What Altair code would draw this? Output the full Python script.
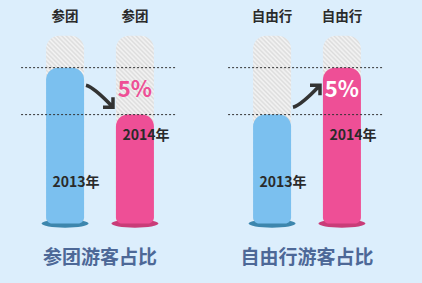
import altair as alt
import pandas as pd

# ---------------- data ----------------
panels = ["参团游客占比", "自由行游客占比"]
panel_tags = ["参团", "自由行"]
years = ["2013年", "2014年"]
share_2013 = [83, 58]      # bar heights as drawn (relative units, full bar = 100)
share_2014 = [58, 83]
change_labels = ["5%", "5%"]
full_height = 100

rows = []
for p, tag, a, b, ch in zip(panels, panel_tags, share_2013, share_2014, change_labels):
    d = "up" if b > a else "down"
    for i, (yr, v) in enumerate(zip(years, [a, b])):
        rows.append(dict(panel=p, tag=tag, year=yr, idx=i, value=v, zero=0,
                         full=full_height, change=ch, dir=d, mid=(a + b) / 2))
df = pd.DataFrame(rows)

# ---------------- styles ----------------
CJK = "Noto Sans CJK SC"
BG = "#dceefc"
BLUE = "#7bc0ef"
PINK = "#ee4f96"
BLUE_DARK = "#3d86ad"
PINK_DARK = "#c93c78"
TITLE_C = "#4d6897"
TXT = "#2a2a2a"

W, H = 200, 233
BAR_W = 38
xs = alt.Scale(domain=[-0.86, 1.86], nice=False, zero=False)
ys = alt.Scale(domain=[-5, 119], nice=False, zero=False)
X = alt.X("idx:Q", scale=xs, axis=None)

# striped gradient for the grey "capacity" bars (diagonal stripes)
bw, bh = BAR_W, full_height * H / 124.0
c = bw * bh * (bw + bh) / (bw ** 2 + bh ** 2)
gx, gy = c / bh, c / bw
N = 50
stops = [alt.GradientStop(offset=round(k / (2 * N), 4),
                          color=("#dcdcdc" if k % 2 == 0 else "#f4f4f4"))
         for k in range(2 * N + 1)]
stripes = alt.LinearGradient(gradient="linear", stops=stops, x1=0, y1=1,
                             x2=round(gx, 4), y2=round(1 - gy, 4))

ELLIPSE = ("M-1,0C-1,-0.097,-0.552,-0.175,0,-0.175C0.552,-0.175,1,-0.097,1,0"
           "C1,0.097,0.552,0.175,0,0.175C-0.552,0.175,-1,0.097,-1,0Z")


def arrow_path(flip):
    s = -1 if flip else 1
    pts = {"a": (-14, -11), "c": (-6, -9), "t": (13, 11), "m1": (3, 11), "m2": (13, 1)}
    f = lambda p: f"{p[0] / 16:.3f},{s * p[1] / 16:.3f}"
    return (f"M{f(pts['a'])}Q{f(pts['c'])},{f(pts['t'])}"
            f"M{f(pts['m1'])}L{f(pts['t'])}L{f(pts['m2'])}")


DOWN, UP = arrow_path(False), arrow_path(True)

bar_color = alt.condition("datum.idx == 0", alt.value(BLUE), alt.value(PINK))
base_color = alt.condition("datum.idx == 0", alt.value(BLUE_DARK), alt.value(PINK_DARK))


def panel(name):
    src = alt.Chart(df).transform_filter(alt.datum.panel == name)

    grey = src.mark_bar(width=BAR_W, cornerRadiusTopLeft=13, cornerRadiusTopRight=13,
                        color=stripes).encode(
        x=X, y=alt.Y("full:Q", scale=ys, axis=None), y2="zero:Q")

    base = src.mark_point(shape=ELLIPSE, size=47 * 47, filled=True, opacity=1,
                          strokeWidth=0).encode(
        x=X, y=alt.Y("zero:Q", scale=ys, axis=None), color=base_color)

    bars = src.mark_bar(width=BAR_W, cornerRadiusTopLeft=12, cornerRadiusTopRight=12,
                        cornerRadiusBottomLeft=6, cornerRadiusBottomRight=6).encode(
        x=X, y=alt.Y("value:Q", scale=ys, axis=None), y2="zero:Q", color=bar_color)

    # dotted guide lines at each bar top, extending beyond the bar pair
    rules = src.transform_calculate(rx="-0.63", rx2="1.59").mark_rule(
        color="#333333", strokeDash=[2, 2], strokeWidth=1).encode(
        y=alt.Y("value:Q", scale=ys, axis=None),
        x=alt.X("rx:Q", scale=xs, axis=None), x2="rx2:Q")

    tags = src.mark_text(font=CJK, fontSize=13.5, fontWeight="bold", color=TXT).encode(
        x=X, y=alt.value(17), text="tag:N")

    y13 = src.transform_filter("datum.idx == 0").mark_text(
        font=CJK, fontSize=14, fontWeight="bold", color=TXT, dx=11).encode(
        x=X, y=alt.value(183), text="year:N")

    y14 = src.transform_filter("datum.idx == 1").mark_text(
        font=CJK, fontSize=14, fontWeight="bold", color=TXT, dx=11).encode(
        x=X, y=alt.value(136), text="year:N")

    chg = src.transform_filter("datum.idx == 1").mark_text(
        font=CJK, fontSize=22, fontWeight="bold").encode(
        x=X, y=alt.value(90), text="change:N",
        color=alt.condition("datum.dir == 'down'", alt.value(PINK), alt.value("#ffffff")))

    arrows = []
    for d, path in (("down", DOWN), ("up", UP)):
        arrows.append(
            src.transform_filter(f"datum.idx == 1 && datum.dir == '{d}'")
            .transform_calculate(ax="0.5", ay="datum.mid - 2.7")
            .mark_point(shape=path, filled=False, size=1024, strokeWidth=3.5,
                        color="#333333", opacity=1)
            .encode(x=alt.X("ax:Q", scale=xs, axis=None),
                    y=alt.Y("ay:Q", scale=ys, axis=None)))

    return alt.layer(grey, base, bars, rules, *arrows, tags, y13, y14, chg).properties(
        width=W, height=H,
        title=alt.TitleParams(name, orient="bottom", fontSize=19, fontWeight="bold",
                              color=TITLE_C, font=CJK, offset=16))


chart = alt.hconcat(panel(panels[0]), panel(panels[1]), spacing=7).properties(
    background=BG,
    padding={"left": 0, "top": 0, "right": 15, "bottom": 20},
).configure_view(strokeWidth=0)

chart.save("out.html", embed_options={"renderer": "svg", "actions": False})
